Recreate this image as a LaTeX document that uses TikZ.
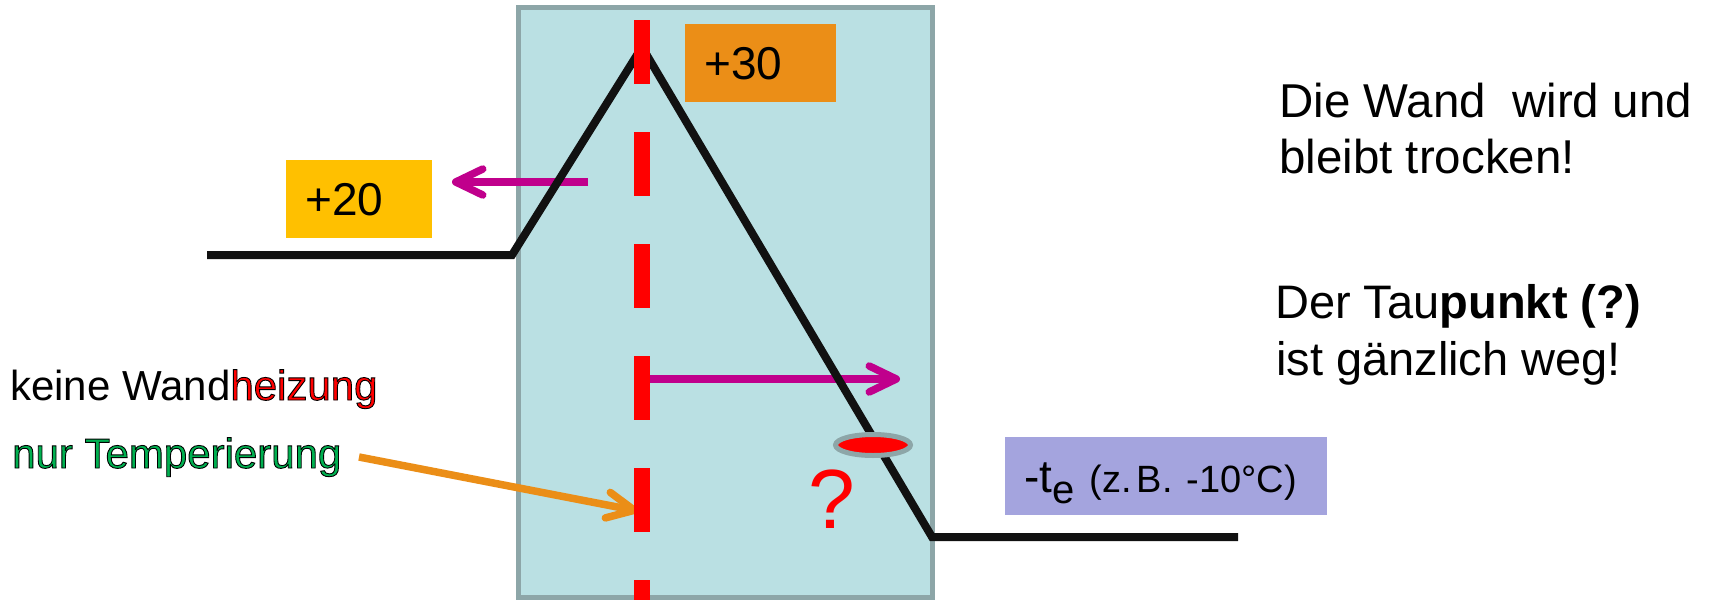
\documentclass[tikz,border=0pt]{standalone}
\usepackage{fontspec}
\setmainfont{Liberation Sans}
\usetikzlibrary{arrows.meta,shapes.geometric}
\definecolor{wallfill}{RGB}{186,224,227}
\definecolor{wallborder}{RGB}{141,166,168}
\definecolor{boxorange}{RGB}{235,142,23}
\definecolor{boxyellow}{RGB}{255,192,0}
\definecolor{boxviolet}{RGB}{164,164,222}
\definecolor{arrmagenta}{RGB}{192,0,140}
\definecolor{txtgreen}{RGB}{0,176,80}
\definecolor{txtred}{RGB}{255,0,0}
\definecolor{lineblack}{RGB}{17,17,17}
\newcommand\fsz[1]{\fontsize{#1}{#1}\selectfont}
\newcommand\outltxt[2]{\textcolor{#1}{\special{pdf:literal direct 0 0 0 RG 0.9 w 2 Tr}#2\special{pdf:literal direct 0 Tr}}}
\begin{document}
\begin{tikzpicture}[x=1pt,y=-1pt,
  wall/.style={fill=wallfill,draw=wallborder,line width=5pt},
  tline/.style={draw=lineblack,line width=8pt},
  marrow/.style={draw=arrmagenta,line width=7.5pt,-{Straight Barb[length=27pt,width=26pt,round]}},
  oarrow/.style={draw=boxorange,line width=7.5pt,-{Straight Barb[length=27pt,width=26pt,round]}},
  tempbox/.style={inner xsep=19pt,inner ysep=0pt,anchor=north west,align=left,text height=33pt,text depth=0pt,minimum height=78pt},
  plain/.style={inner sep=0pt,anchor=base west},
]
\useasboundingbox (0,0) rectangle (1709,600);
\fill[white] (0,0) rectangle (1709,600);
% wall
\draw[wall] (518.5,7.5) rectangle (932.5,597.5);
% heat flow arrows
\coordinate (m1s) at (650,379);
\coordinate (m1e) at (900,379);
\coordinate (m2s) at (588,182);
\coordinate (m2e) at (452,182);
\draw[marrow] (m1s) -- (m1e);
\draw[marrow] (m2s) -- (m2e);
% temperature profile
\coordinate (p0) at (207,255);
\coordinate (p1) at (512,255);
\coordinate (p2) at (642,47);
\coordinate (p3) at (932,537);
\coordinate (p4) at (1238,537);
\draw[tline] (p0) -- (p1) -- (p2) -- (p3) -- (p4);
% dew point ellipse
\node[ellipse,fill=red,draw=wallborder,line width=5pt,minimum width=75pt,minimum height=21pt,inner sep=0pt] (dew) at (873,445) {};
\node[text=red,inner sep=0pt,anchor=base] (qm) at (832,528) {\fsz{84}?};
% orange arrow
\coordinate (os) at (359,457);
\coordinate (oe) at (638,511);
\draw[oarrow] (os) -- (oe);
% red dashed heating line
\coordinate (hs) at (642,20);
\coordinate (he) at (642,600);
\draw[red,line width=16pt,dash pattern=on 64pt off 48pt] (hs) -- (he);
% temperature boxes
\node[tempbox,fill=boxyellow,text width=108pt] (t20) at (286,160) {\fsz{46}+20};
\node[tempbox,fill=boxorange,text width=113pt] (t30) at (685,24) {\fsz{46}+30};
\node[tempbox,fill=boxviolet,text width=284pt] (te) at (1005,437) {\fsz{46}-t\raisebox{-11pt}{\fsz{40}e}\hspace{15pt}\fsz{38}(z. B.\hspace{14pt}-10°C)};
% left texts
\node[plain] (kw) at (10,400) {\fsz{42}keine Wand\outltxt{txtred}{heizung}};
\node[plain] (nt) at (12,468) {\fsz{42}\outltxt{txtgreen}{nur Temperierung}};
% right texts
\node[plain] (r1) at (1279,117) {\fsz{47.5}Die Wand\ \ wird und};
\node[plain] (r2) at (1279,173) {\fsz{47.5}bleibt trocken!};
\node[plain] (r3) at (1275,318) {\fsz{47}Der Tau\textbf{punkt (?)}};
\node[plain] (r4) at (1276,375) {\fsz{47}ist gänzlich weg!};
\end{tikzpicture}
\end{document}
